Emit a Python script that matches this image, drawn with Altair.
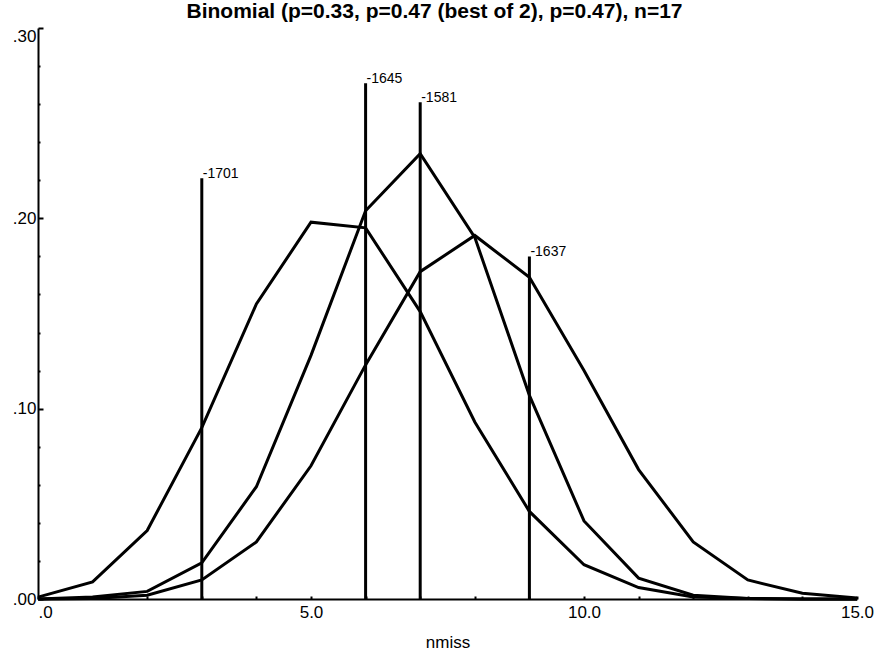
import altair as alt
import pandas as pd

# Number of misses (x) and probability for each binomial curve, n=17
nmiss = list(range(16))
p_033 = [0.001, 0.009, 0.036, 0.090, 0.155, 0.198, 0.195, 0.151, 0.093, 0.046,
         0.018, 0.006, 0.001, 0.0003, 0.0, 0.0]
p_047_best2 = [0.0, 0.001, 0.004, 0.019, 0.059, 0.128, 0.204, 0.234, 0.190, 0.107,
               0.041, 0.011, 0.002, 0.0002, 0.0, 0.0]
p_047 = [0.0, 0.0003, 0.002, 0.010, 0.030, 0.070, 0.123, 0.172, 0.191, 0.169,
         0.120, 0.068, 0.030, 0.010, 0.003, 0.0005]

# Marker rules with their labels
rule_x = [3, 6, 7, 9]
rule_top = [0.221, 0.271, 0.261, 0.180]
rule_label = ["-1701", "-1645", "-1581", "-1637"]

# Tick positions (labels every 5 on x, every .10 on y)
x_ticks = list(range(16))
y_ticks = [round(i * 0.02, 2) for i in range(16)]

curves = pd.DataFrame({
    "nmiss": nmiss * 3,
    "prob": p_033 + p_047_best2 + p_047,
    "series": ["p=0.33"] * 16 + ["p=0.47 (best of 2)"] * 16 + ["p=0.47"] * 16,
})
rules = pd.DataFrame({"nmiss": rule_x, "top": rule_top, "label": rule_label})

FONT = "Liberation Sans"

x_scale = alt.Scale(domain=[0, 15], nice=False, zero=False)
y_scale = alt.Scale(domain=[0, 0.30], nice=False)

# Ticks point inward (negative size), so labels get extra padding
x_axis = alt.Axis(
    title="nmiss",
    values=x_ticks,
    tickCount=100,
    labelExpr="datum.value % 5 != 0 ? '' : (datum.value < 1 ? substring(format(datum.value, '.1f'), 1) : format(datum.value, '.1f'))",
    labelAlign=alt.expr("datum.value == 0 ? 'left' : 'center'"),
    labelOverlap=False,
    labelFontSize=17,
    labelFont=FONT,
    labelColor="black",
    labelPadding=8,
    titleFont=FONT,
    titleFontSize=17,
    titleFontWeight="normal",
    titleColor="black",
    titlePadding=14,
    tickSize=alt.expr("-3"),
    tickWidth=2,
    tickColor="black",
    domainColor="black",
    domainWidth=2,
    grid=False,
)

y_axis = alt.Axis(
    title=None,
    values=y_ticks,
    tickCount=100,
    labelExpr="abs(datum.value * 10 - round(datum.value * 10)) < 1e-6 ? substring(format(datum.value, '.2f'), 1) : ''",
    labelBaseline=alt.expr("datum.value >= 0.3 ? 'top' : 'middle'"),
    labelOverlap=False,
    labelFontSize=17,
    labelFont=FONT,
    labelColor="black",
    labelPadding=7,
    tickSize=alt.expr("abs(datum.value * 10 - round(datum.value * 10)) < 1e-6 ? -5 : -2"),
    tickWidth=2,
    tickColor="black",
    domainColor="black",
    domainWidth=2,
    grid=False,
)

lines = alt.Chart(curves).mark_line(color="black", strokeWidth=3).encode(
    x=alt.X("nmiss:Q", scale=x_scale, axis=x_axis),
    y=alt.Y("prob:Q", scale=y_scale, axis=y_axis),
    detail="series:N",
)

rule_marks = alt.Chart(rules).mark_rule(color="black", strokeWidth=3).encode(
    x=alt.X("nmiss:Q", scale=x_scale),
    y=alt.Y("top:Q", scale=y_scale),
    y2=alt.Y2(datum=0),
)

rule_text = alt.Chart(rules).mark_text(
    align="left", baseline="alphabetic", dx=1, dy=0,
    font=FONT, fontSize=14, color="black",
).encode(
    x=alt.X("nmiss:Q", scale=x_scale),
    y=alt.Y("top:Q", scale=y_scale),
    text="label:N",
)

chart = alt.layer(lines, rule_marks, rule_text).properties(
    width=819,
    height=571,
    title=alt.TitleParams(
        "Binomial (p=0.33, p=0.47 (best of 2), p=0.47), n=17",
        font=FONT, fontSize=21, fontWeight="bold", color="black",
        anchor="middle", dx=-13, offset=5,
    ),
    autosize=alt.AutoSizeParams(type="none"),
    padding={"left": 38, "top": 28, "right": 20, "bottom": 61},
    background="white",
).configure_view(stroke=None)

chart.save("out.html", embed_options={"renderer": "svg", "actions": False})
